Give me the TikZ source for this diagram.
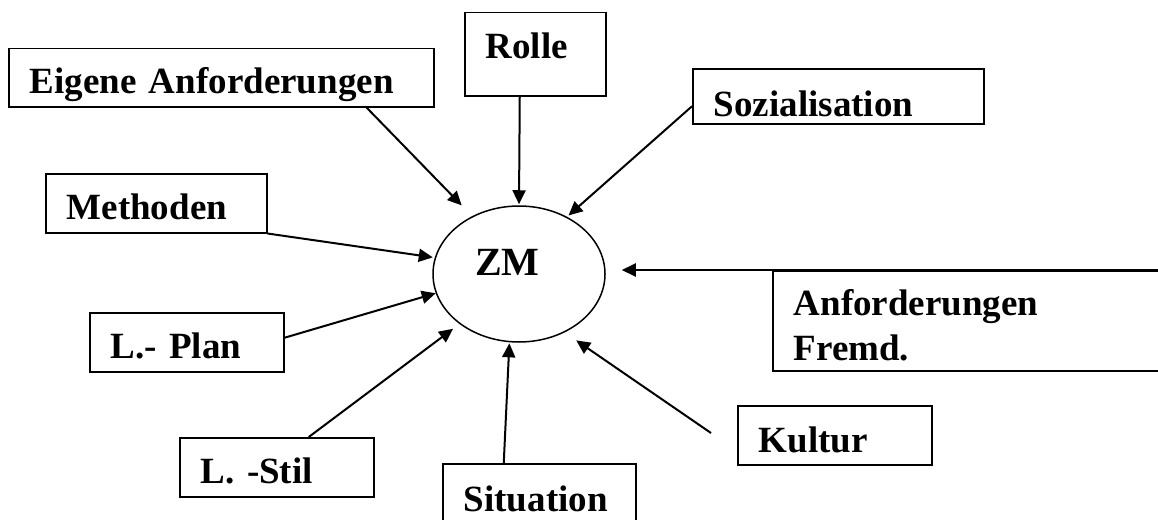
\documentclass[tikz,border=0pt]{standalone}
\usepackage{fontspec}
\setmainfont{Liberation Serif}
\usetikzlibrary{arrows.meta,shapes.geometric}

\begin{document}
\begin{tikzpicture}[x=1pt, y=-1pt,
    textbox/.style={rectangle, draw=black, line width=1.5pt, anchor=north west,
        inner xsep=21pt, inner ysep=0pt, align=left, text height=46pt,
        font=\fontsize{37}{45}\selectfont\bfseries},
    roundnode/.style={ellipse, draw=black, line width=1.5pt, minimum width=172pt,
        minimum height=136pt, inner sep=0pt, text width=88pt, align=left,
        text height=28pt, text depth=26pt, font=\fontsize{40}{48}\selectfont\bfseries},
    arrowline/.style={->, >={Triangle[length=14pt,width=13pt]}, draw=black, line width=2pt}
    ]
        \useasboundingbox (0,0) rectangle (1158,519);

        %Nodes
        \node[roundnode] (zm) at (519,274) {ZM};
        \node[textbox, minimum width=425pt, minimum height=58pt, text width=383pt,
            text height=45pt, text depth=13pt]
            (eigene) at (8,48) {Eigene Anforderungen};
        \node[textbox, minimum width=141pt, minimum height=83pt, text width=99pt,
            text depth=37pt]
            (rolle) at (464,12) {Rolle};
        \node[textbox, minimum width=291pt, minimum height=55pt, text width=249pt,
            text height=48pt, text depth=7pt]
            (sozial) at (692,68) {Sozialisation};
        \node[textbox, minimum width=221pt, minimum height=59pt, text width=179pt,
            text depth=13pt]
            (methoden) at (45,173) {Methoden};
        \node[textbox, minimum width=194pt, minimum height=59pt, text width=152pt,
            text depth=13pt]
            (plan) at (89,312) {L.- Plan};
        \node[textbox, minimum width=194pt, minimum height=59pt, text width=152pt,
            text depth=13pt]
            (stil) at (179,437) {L. -Stil};
        \node[textbox, minimum width=193pt, minimum height=59pt, text width=151pt,
            text height=48pt, text depth=11pt]
            (situation) at (442,463) {Situation};
        \node[textbox, minimum width=194pt, minimum height=59pt, text width=152pt,
            text height=47pt, text depth=12pt]
            (kultur) at (737,405) {Kultur};
        \node[textbox, minimum width=430pt, minimum height=100pt, text width=388pt,
            text height=45pt, text depth=55pt]
            (fremd) at (772,270) {Anforderungen\\Fremd.};
        \coordinate (kulturtail) at (711,433);

        %Lines
        \draw[arrowline, shorten >=15pt]
            ([xshift=-68pt]eigene.south east) -- (zm.129);
        \draw[arrowline, shorten >=1pt]
            ([xshift=-15.5pt]rolle.south) -- (zm.90);
        \draw[arrowline, shorten >=2pt]
            ([yshift=-10pt]sozial.west) -- (zm.50);
        \draw[arrowline, shorten >=2pt]
            (methoden.south east) -- (zm.169);
        \draw[arrowline]
            ([yshift=4.5pt]plan.east) -- (zm.193);
        \draw[arrowline, shorten >=8pt]
            ([xshift=32pt]stil.north) -- (zm.220);
        \draw[arrowline, shorten >=1pt]
            ([xshift=-35.5pt]situation.north) -- (zm.262);
        \draw[arrowline, shorten >=14pt]
            (kulturtail) -- (zm.308);
        \draw[arrowline, shorten >=16pt]
            (fremd.north east) -- (zm.east |- fremd.north);
    \end{tikzpicture}
\end{document}
